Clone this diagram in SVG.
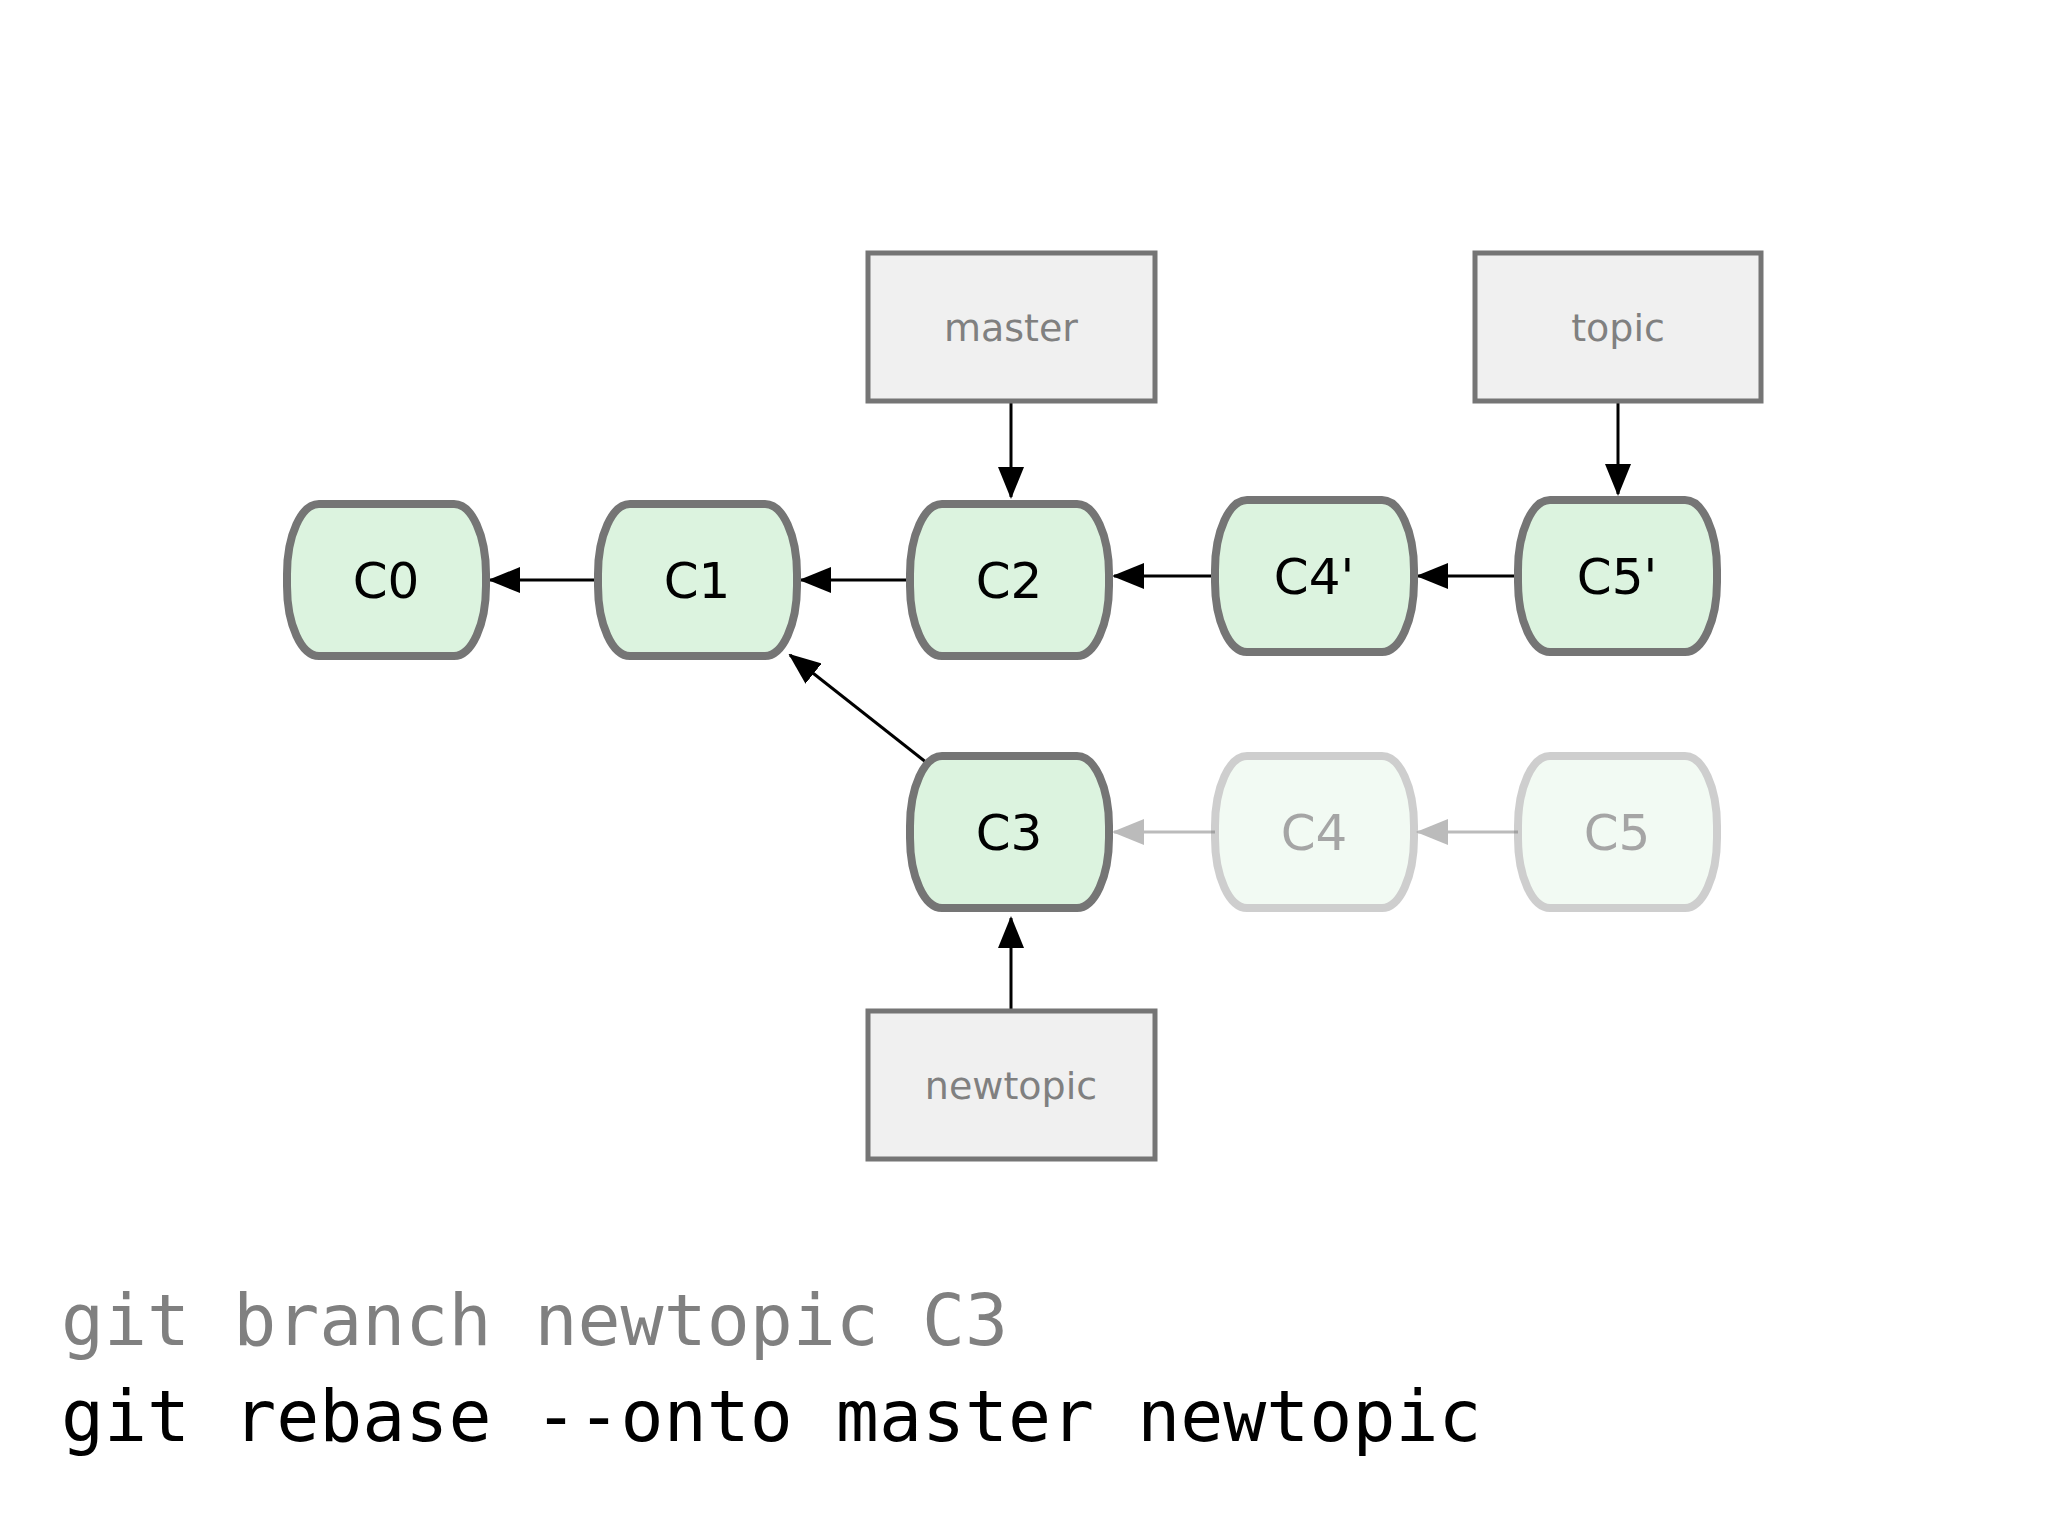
<svg xmlns="http://www.w3.org/2000/svg" width="2048" height="1536" viewBox="0 0 2048 1536">
<style>
.c rect{fill:#dcf3df;stroke:#757575;stroke-width:8}
.f{opacity:0.35}
.c text{font-family:"DejaVu Sans",sans-serif;font-size:50px;fill:#000;text-anchor:middle}
.b rect{fill:#f0f0f0;stroke:#757575;stroke-width:5}
.b text{font-family:"DejaVu Sans",sans-serif;font-size:38px;fill:#808080;text-anchor:middle}
.e{stroke:#000;stroke-width:3;fill:none;marker-end:url(#a)}
.g{stroke:#bbb;stroke-width:3;fill:none;marker-end:url(#ag)}
.cmd{font-family:"DejaVu Sans Mono",monospace;font-size:71.5px}
</style>
<defs>
<marker id="a" markerWidth="32" markerHeight="26" refX="30" refY="13" orient="auto" markerUnits="userSpaceOnUse" viewBox="0 0 32 26"><path d="M0,0L32,13L0,26z" fill="#000"/></marker>
<marker id="ag" markerWidth="32" markerHeight="26" refX="30" refY="13" orient="auto" markerUnits="userSpaceOnUse" viewBox="0 0 32 26"><path d="M0,0L32,13L0,26z" fill="#bbb"/></marker>
</defs>
<rect width="2048" height="1536" fill="#fff"/>
<g id="connectors">
<line class="e" x1="598" y1="580" x2="490" y2="580"/>
<line class="e" x1="910" y1="580" x2="801" y2="580"/>
<line class="e" x1="1215" y1="576" x2="1114" y2="576"/>
<line class="e" x1="1518" y1="576" x2="1418" y2="576"/>
<line class="e" x1="927" y1="763" x2="790" y2="655"/>
<line class="e" x1="1011" y1="401" x2="1011" y2="497"/>
<line class="e" x1="1618" y1="401" x2="1618" y2="494"/>
<line class="e" x1="1011" y1="1011" x2="1011" y2="918"/>
<line class="g" x1="1215" y1="832" x2="1114" y2="832"/>
<line class="g" x1="1518" y1="832" x2="1418" y2="832"/>
</g>
<g id="C0" class="c"><rect x="287" y="504" width="199" height="152" rx="32" ry="70"/><text x="386" y="598">C0</text></g>
<g id="C1" class="c"><rect x="598" y="504" width="199" height="152" rx="32" ry="70"/><text x="697" y="598">C1</text></g>
<g id="C2" class="c"><rect x="910" y="504" width="199" height="152" rx="32" ry="70"/><text x="1009" y="598">C2</text></g>
<g id="C4p" class="c"><rect x="1215" y="500" width="199" height="152" rx="32" ry="70"/><text x="1314" y="594">C4'</text></g>
<g id="C5p" class="c"><rect x="1518" y="500" width="199" height="152" rx="32" ry="70"/><text x="1617" y="594">C5'</text></g>
<g id="C3" class="c"><rect x="910" y="756" width="199" height="152" rx="32" ry="70"/><text x="1009" y="850">C3</text></g>
<g id="C4" class="c f"><rect x="1215" y="756" width="199" height="152" rx="32" ry="70"/><text x="1314" y="850">C4</text></g>
<g id="C5" class="c f"><rect x="1518" y="756" width="199" height="152" rx="32" ry="70"/><text x="1617" y="850">C5</text></g>
<g id="master" class="b"><rect x="868" y="253" width="287" height="148"/><text x="1011" y="341">master</text></g>
<g id="topic" class="b"><rect x="1475" y="253" width="286" height="148"/><text x="1618" y="341">topic</text></g>
<g id="newtopic" class="b"><rect x="868" y="1011" width="287" height="148"/><text x="1011" y="1099">newtopic</text></g>
<text class="cmd" x="61" y="1345" fill="#808080">git branch newtopic C3</text>
<text class="cmd" x="61" y="1441" fill="#000">git rebase --onto master newtopic</text>
</svg>
